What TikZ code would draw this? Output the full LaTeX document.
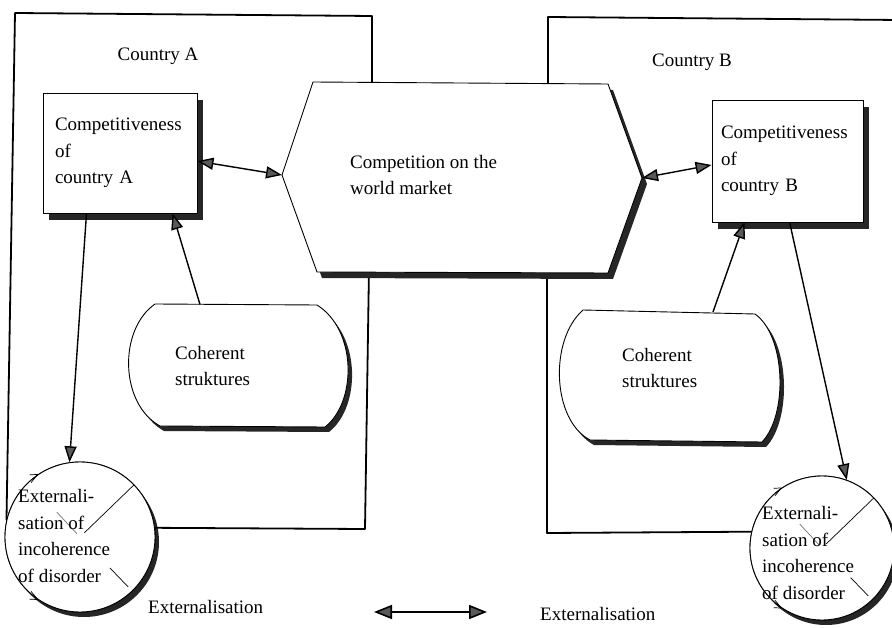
\documentclass[tikz,border=0pt]{standalone}
\usepackage{fontspec}
\setmainfont{Liberation Serif}
\usetikzlibrary{arrows.meta,shadows,calc}

\tikzset{
  framerule/.style={line width=1.8pt, line cap=round, line join=round},
  shapeline/.style={draw=black, line width=0.9pt, fill=white},
  shadowed/.style={general shadow={fill=black!85, shadow xshift=#1, shadow yshift=-#1-1pt}},
  shadowed/.default=5pt,
  boxnode/.style={shapeline, rectangle, align=left, inner ysep=0pt,
    font=\fontsize{19}{26.5}\selectfont, shadowed=6pt},
  link/.style={line width=1.4pt, -{Triangle[length=16pt,width=12pt,fill=black!65]}},
  twoway/.style={line width=1.4pt, {Triangle[length=16pt,width=12pt,fill=black!65]}-{Triangle[length=16pt,width=12pt,fill=black!65]}},
  txt/.style={font=\fontsize{19}{26.5}\selectfont, inner sep=0pt, align=left},
  thinline/.style={line width=0.7pt},
}

\begin{document}
\begin{tikzpicture}[x=1pt,y=-1pt]
\clip (0,0) rectangle (892,628);
\fill[white] (0,0) rectangle (892,628);

% circles of externalisation
\node[circle, shapeline, minimum size=150pt, inner sep=0pt, shadowed=4pt] (circA) at (80,537) {};
\node[circle, shapeline, minimum size=144pt, inner sep=0pt, shadowed=4pt] (circB) at (822,548) {};

% country frames
\draw[framerule] (circA.167) -- (15,13) -- (372,16) -- (372,90);
\draw[framerule] (369,268) -- (365,529) -- (circA.7);
\draw[framerule] (548,90) -- (548,17) -- (900,20);
\draw[framerule] (547,268) -- (547,533) -- (circB.167);

% world market hexagon
\draw[shapeline, shadowed=5pt] (313,82) -- (608,84) -- (642,178) -- (608,273)
  -- (317,272) -- (282,175) -- cycle;
\coordinate (hexL) at (282,175);
\coordinate (hexR) at (642,178);
\node[txt, anchor=west] (market) at (350,175) {Competition on the\\world market};

% coherent structures
\draw[shapeline, shadowed=4pt] (155,304) -- (317,305)
  .. controls (357,330) and (357,402) .. (325,427) -- (160,426)
  .. controls (120,404) and (118,330) .. (155,304) -- cycle;
\coordinate (cohAtop) at (200,304.5);
\node[txt, anchor=west] (cohA) at (175,366) {Coherent\\struktures};

\draw[shapeline, shadowed=4pt] (583,310) -- (755,314)
  .. controls (786,336) and (788,415) .. (762,442) -- (590,440)
  .. controls (552,420) and (549,340) .. (583,310) -- cycle;
\coordinate (cohBtop) at (713,312);
\node[txt, anchor=west] (cohB) at (622,368) {Coherent\\struktures};

% competitiveness boxes
\node[boxnode, minimum width=154pt, minimum height=120pt, text width=130pt,
  inner xsep=12pt] (boxA) at (120,153) {Competitiveness\\of\\country A};
\node[boxnode, minimum width=151pt, minimum height=122pt, text width=133pt,
  inner xsep=9pt] (boxB) at (787.5,161) {Competitiveness\\of\\country B};

% redraw circles on top of the frame ends
\node[circle, shapeline, minimum size=150pt, inner sep=0pt] at (circA.center) {};
\node[circle, shapeline, minimum size=144pt, inner sep=0pt] at (circB.center) {};

% inner strokes and small barbs of the circles
\foreach \c in {circA,circB}{
  \draw[thinline] ($(\c.center)!0.08!(\c.44)$) -- (\c.44);
  \draw[thinline, black!55] ($(\c.center)!0.06!(\c.133)$) -- ($(\c.center)!0.45!(\c.133)$);
  \draw[thinline] ($(\c.center)!0.57!(\c.-46)$) -- ($(\c.center)!0.92!(\c.-46)$);
  \draw[thinline] (\c.124) -- ($(\c.center)!0.97!(\c.132)$);
  \draw[thinline] (\c.124) -- ($(\c.center)!1.06!(\c.129)$);
  \draw[thinline] (\c.236) -- ($(\c.center)!0.97!(\c.228)$);
  \draw[thinline] (\c.236) -- ($(\c.center)!1.06!(\c.231)$);
}

% circle texts
\node[txt, anchor=west] (extA) at (18,536) {Externali-\\sation of\\incoherence\\of disorder};
\node[txt, anchor=west] (extB) at (762,553) {Externali-\\sation of\\incoherence\\of disorder};

% country labels
\node[txt] (countryA) at (158,56) {Country A};
\node[txt] (countryB) at (692,62) {Country B};

% connectors
\draw[twoway] (boxA.-6) -- (hexL);
\draw[twoway] (hexR) -- (boxB.183);
\draw[link] (cohAtop) -- (boxA.-49);
\draw[link] (cohBtop) -- (boxB.235);
\draw[link] (boxA.241) -- (circA.98);
\draw[link] (boxB.-88) -- (circB.70);

% legend
\node[txt, anchor=west] (legTextA) at (148,607) {Externalisation};
\node[txt, anchor=west] (legTextB) at (540,614) {Externalisation};
\coordinate (legL) at (374,612);
\coordinate (legR) at (487,612);
\draw[line width=1.6pt, {Triangle[length=18pt,width=14pt,fill=black!65]}-{Triangle[length=18pt,width=14pt,fill=black!65]}] (legL) -- (legR);
\end{tikzpicture}
\end{document}
